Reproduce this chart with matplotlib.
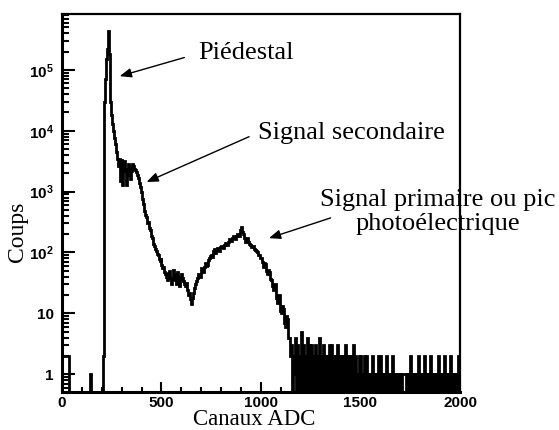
import numpy as np
import matplotlib
matplotlib.use("Agg")
import matplotlib.pyplot as plt
from matplotlib.ticker import LogLocator, FuncFormatter, MultipleLocator, NullFormatter

plt.rcParams['mathtext.fontset'] = 'custom'
plt.rcParams['mathtext.bf'] = 'Liberation Sans:bold'
plt.rcParams['mathtext.rm'] = 'Liberation Sans:bold'

# ADC spectrum, 5-channel bins over 0..2000
bin_width = 5

# 0..200 : nearly empty below the pedestal
low_counts = [2, 2, 2, 2, 2, 2, 2, 0, 0, 0,
              0, 0, 0, 0, 0, 0, 0, 0, 0, 0,
              0, 0, 0, 0, 0, 0, 0, 0, 1, 0,
              0, 0, 0, 0, 0, 0, 0, 0, 0, 0]

# 200..1150 : pedestal, secondary signal, photoelectric peak
main_counts = [
    0, 2, 3e4, 7e4, 1.5e5, 2.2e5, 4.4e5, 1.8e5, 3e4, 1.8e4,        # 200
    1.3e4, 1e4, 7.5e3, 6e3, 4.5e3, 3.5e3, 2.6e3, 3.4e3, 1.5e3, 3.3e3,  # 250
    1.3e3, 2.2e3, 3.2e3, 2.4e3, 1.3e3, 1.9e3, 2.9e3, 2.5e3, 1.6e3, 2.2e3,  # 300
    2.9e3, 2.6e3, 2.4e3, 2.3e3, 2.1e3, 1.9e3, 1.7e3, 1.4e3, 1.2e3, 1e3,    # 350
    750, 620, 480, 420, 380, 300, 320, 250, 230, 190,              # 400
    170, 140, 130, 115, 105, 95, 90, 78, 72, 80,                   # 450
    62, 55, 58, 48, 45, 40, 35, 46, 50, 38,                        # 500
    30, 36, 52, 44, 35, 30, 48, 40, 28, 36,                        # 550
    44, 38, 34, 30, 28, 32, 24, 20, 22, 17,                        # 600
    14, 18, 22, 26, 30, 34, 38, 44, 45, 40,                        # 650
    55, 50, 48, 58, 68, 60, 62, 74, 80, 88,                        # 700
    92, 84, 105, 112, 98, 108, 118, 110, 104, 122,                 # 750
    130, 125, 118, 135, 145, 138, 132, 150, 165, 158,              # 800
    152, 170, 185, 175, 165, 190, 205, 195, 188, 230,              # 850
    265, 220, 200, 170, 150, 160, 172, 150, 140, 132,              # 900
    122, 130, 128, 115, 110, 104, 100, 92, 90, 82,                 # 950
    80, 70, 58, 66, 64, 50, 45, 52, 48, 36,                        # 1000
    35, 28, 24, 30, 30, 18, 15, 20, 20, 11,                        # 1050
    10, 13, 12, 7, 6, 9, 8, 4, 4, 2,                               # 1100
]

# 1150..2000 : sparse tail, one digit per bin
tail_counts = [
    "3021403020", "5030204030", "3020302040", "2030202030",
    "3020203020", "2020302020", "2030201020", "2010202010",
    "1020101020", "2010102010", "1020101010", "1011110101",
    "2010101020", "1010201010", "2010101020", "1010201010",
    "2010101020",
]

tail = [int(c) for row in tail_counts for c in row]
counts = np.array(low_counts + main_counts + tail, dtype=float)
edges = np.arange(0, bin_width * len(counts) + 1, bin_width)

fig = plt.figure(figsize=(5.59, 4.30), dpi=100)
ax = fig.add_axes([0.1109, 0.0884, 0.712, 0.879])

# empty bins drawn down below the axis like the original
ax.stairs(np.maximum(counts, 0.05), edges, color='black', lw=2.0, baseline=None)

ax.set_yscale('log')
ax.set_xlim(0, 2000)
ax.set_ylim(0.51, 8.3e5)

ax.xaxis.set_major_locator(MultipleLocator(500))
ax.xaxis.set_minor_locator(MultipleLocator(100))
ax.yaxis.set_major_locator(LogLocator(base=10, numticks=20))
ax.yaxis.set_minor_locator(LogLocator(base=10, subs=np.arange(2, 10), numticks=20))


def ylab(v, pos):
    if v < 0.5 or v > 1e6:
        return ''
    if v < 1.5:
        return '1'
    if v < 15:
        return '10'
    return r'$\mathbf{10^{%d}}$' % round(np.log10(v))


ax.yaxis.set_major_formatter(FuncFormatter(ylab))
ax.yaxis.set_minor_formatter(NullFormatter())

ax.tick_params(axis='both', which='both', direction='in', top=False, right=False,
               width=1.5, labelsize=11)
ax.tick_params(axis='y', which='major', length=9, pad=6)
ax.tick_params(axis='y', which='minor', length=5)
ax.tick_params(axis='x', which='major', length=7, pad=3)
ax.tick_params(axis='x', which='minor', length=3.5)
for lab in ax.get_xticklabels() + ax.get_yticklabels():
    lab.set_fontfamily('Liberation Sans')
    lab.set_fontweight('bold')

ax.spines['left'].set_linewidth(2.2)
ax.spines['bottom'].set_linewidth(2.2)
ax.spines['top'].set_linewidth(1.6)
ax.spines['right'].set_linewidth(1.6)

serif = 'Liberation Serif'
fig.text(0.455, 0.024, 'Canaux ADC', fontsize=16.5, family=serif, ha='center', va='center')
fig.text(0.032, 0.46, 'Coups', fontsize=17, family=serif, rotation=90, ha='center', va='center')

arrow = dict(arrowstyle='-|>,head_length=0.7,head_width=0.28', color='black', lw=1, shrinkA=0, shrinkB=0)
ax.annotate('', xy=(290, 7.9e4), xytext=(615, 1.6e5), arrowprops=arrow)
ax.annotate('', xy=(425, 1.44e3), xytext=(940, 8e3), arrowprops=arrow)
ax.annotate('', xy=(1040, 172), xytext=(1350, 370), arrowprops=arrow)

fig.text(0.354, 0.877, 'Piédestal', fontsize=19, family=serif, ha='left', va='center')
fig.text(0.4615, 0.691, 'Signal secondaire', fontsize=19, family=serif, ha='left', va='center')
fig.text(0.7835, 0.507, 'Signal primaire ou pic\nphotoélectrique', fontsize=19, family=serif,
         ha='center', va='center', multialignment='center', linespacing=1.1)

fig.savefig('out.png', dpi=100)
